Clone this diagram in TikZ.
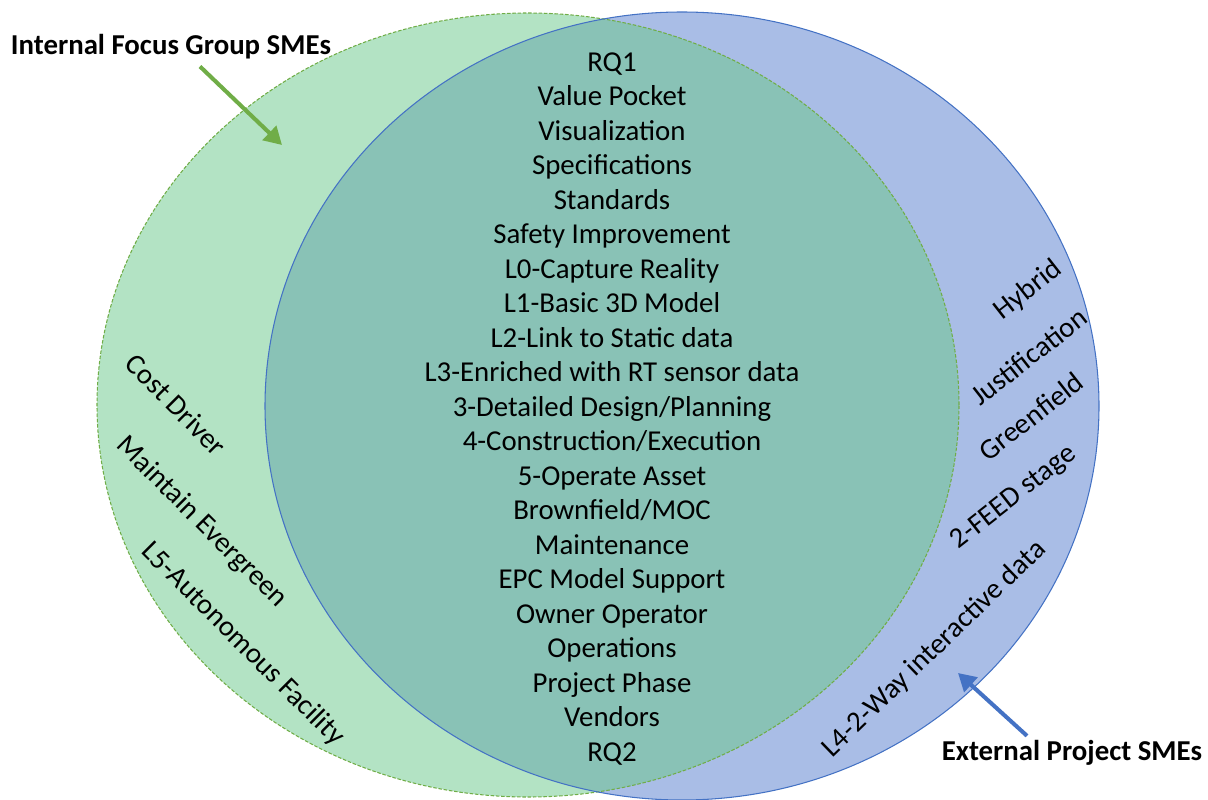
\documentclass[tikz,border=0pt]{standalone}
\usepackage{fontspec}
\setmainfont{Carlito}
\usepackage{xcolor}
\definecolor{vgreen}{RGB}{179,227,196}
\definecolor{vblue}{RGB}{169,189,230}
\definecolor{vteal}{RGB}{137,194,182}
\definecolor{vgreenline}{RGB}{112,173,71}
\definecolor{vblueline}{RGB}{68,114,196}
\usepackage{tikz}
\usetikzlibrary{arrows.meta, positioning}

\tikzset{
  item/.style={font=\fontsize{16.4}{19}\selectfont, text=black, inner sep=1pt, text height=11pt, text depth=3.5pt},
  sidetext/.style={font=\fontsize{16.4}{19}\selectfont, text=black, inner sep=1pt, text height=11pt, text depth=3.5pt},
  grouplabel/.style={font=\fontsize{16.4}{19}\selectfont\bfseries, text=black, inner sep=1pt},
  greenarrow/.style={vgreenline, line width=2.3pt, -{Triangle[length=10pt,width=11pt]}},
  bluearrow/.style={vblueline, line width=2.3pt, -{Triangle[length=10pt,width=11pt]}}
}

\begin{document}
\begin{tikzpicture}
  \useasboundingbox (0,0) rectangle (24.16,15.98);

  % Ellipses
  \fill[vgreen] (10.56,7.88) ellipse [x radius=8.62, y radius=7.84];
  \fill[vblue]  (13.64,7.86) ellipse [x radius=8.34, y radius=7.88];
  \begin{scope}
    \clip (10.56,7.88) ellipse [x radius=8.62, y radius=7.84];
    \fill[vteal] (13.64,7.86) ellipse [x radius=8.34, y radius=7.88];
  \end{scope}
  \draw[vgreenline, line width=0.6pt, dash pattern=on 2pt off 1pt] (10.56,7.88) ellipse [x radius=8.62, y radius=7.84];
  \draw[vblueline, line width=0.6pt] (13.64,7.86) ellipse [x radius=8.34, y radius=7.88];

  % --- Shared items ---
  \node[item] (rq1)   at (12.24,14.69) {RQ1};
  \node[item] (value) at (12.24,14.00) {Value Pocket};
  \node[item] (visu)  at (12.24,13.31) {Visualization};
  \node[item] (spec)  at (12.24,12.62) {Specifications};
  \node[item] (stand) at (12.24,11.93) {Standards};
  \node[item] (safety) at (12.24,11.24) {Safety Improvement};
  \node[item] (lzero) at (12.24,10.55) {L0-Capture Reality};
  \node[item] (lone)  at (12.24,9.86) {L1-Basic 3D Model};
  \node[item] (ltwo)  at (12.24,9.17) {L2-Link to Static data};
  \node[item] (lthree) at (12.24,8.48) {L3-Enriched with RT sensor data};
  \node[item] (design) at (12.24,7.79) {3-Detailed Design/Planning};
  \node[item] (constr) at (12.24,7.10) {4-Construction/Execution};
  \node[item] (operate) at (12.24,6.41) {5-Operate Asset};
  \node[item] (brown) at (12.24,5.72) {Brownfield/MOC};
  \node[item] (maint) at (12.24,5.03) {Maintenance};
  \node[item] (epc)   at (12.24,4.34) {EPC Model Support};
  \node[item] (owner) at (12.24,3.65) {Owner Operator};
  \node[item] (ops)   at (12.24,2.96) {Operations};
  \node[item] (phase) at (12.24,2.27) {Project Phase};
  \node[item] (vend)  at (12.24,1.58) {Vendors};
  \node[item] (rq2)   at (12.24,0.89) {RQ2};

  % --- Internal only ---
  \node[sidetext, rotate=-45] (cost)  at (3.48,7.84) {Cost Driver};
  \node[sidetext, rotate=-45] (ever)  at (4.02,5.52) {Maintain Evergreen};
  \node[sidetext, rotate=-45] (lfive) at (4.84,3.08) {L5-Autonomous Facility};

  % --- External only ---
  \node[sidetext, rotate=38] (hybrid) at (20.58,10.16) {Hybrid};
  \node[sidetext, rotate=38] (just)   at (20.62,8.80) {Justification};
  \node[sidetext, rotate=38] (green)  at (20.66,7.60) {Greenfield};
  \node[sidetext, rotate=38] (feed)   at (20.28,6.02) {2-FEED stage};
  \node[sidetext, rotate=44] (lfour)  at (18.70,2.98) {L4-2-Way interactive data};

  % Group labels and arrows
  \node[grouplabel] (intlabel) at (3.42,15.04) {Internal Focus Group SMEs};
  \node[grouplabel] (extlabel) at (21.44,0.92) {External Project SMEs};
  \coordinate (greentip) at (5.64,13.08);
  \coordinate (bluetip) at (19.16,2.52);
  \draw[greenarrow] ([xshift=0.58cm,yshift=-0.1cm]intlabel.south) -- (greentip);
  \draw[bluearrow] ([xshift=-0.9cm,yshift=0.05cm]extlabel.north) -- (bluetip);
\end{tikzpicture}
\end{document}
